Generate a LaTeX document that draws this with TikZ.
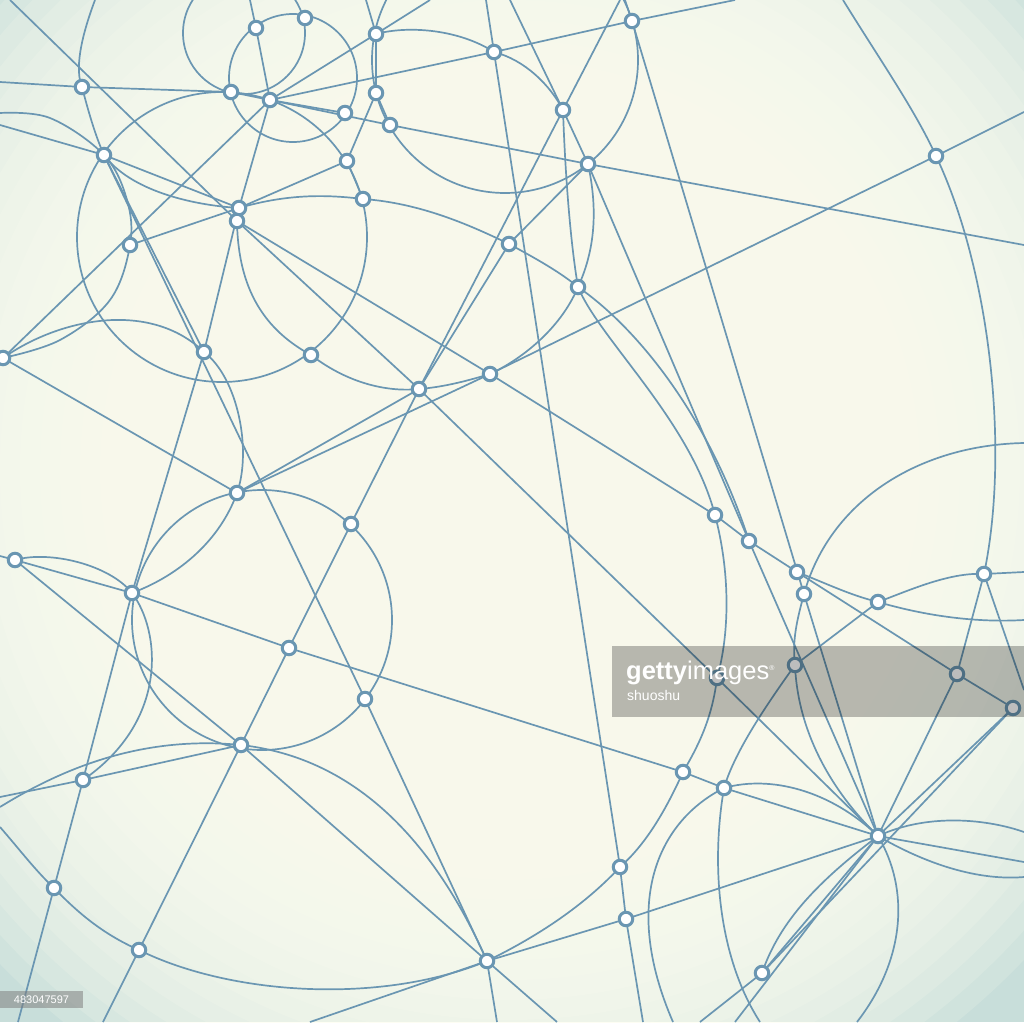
\documentclass[tikz,border=0pt]{standalone}
\usepackage{fontspec}
\newfontfamily\wm{Liberation Sans}
\definecolor{lc}{HTML}{6A96B2}
\definecolor{bgc}{HTML}{FDFDF0}
\definecolor{bge}{HTML}{C8DEDA}
\tikzset{ln/.style={draw=lc, line width=1.7pt},
  dot/.style={circle, draw=lc, line width=3pt, fill=white, inner sep=0pt, minimum size=13.5pt}}
\begin{document}
\begin{tikzpicture}[x=1pt,y=-1pt]
\useasboundingbox (0,0) rectangle (1024,1022);
\begin{scope}
\clip (0,0) rectangle (1024,1022);
\fill[bge] (0,0) rectangle (1024,1022);
\foreach \r in {710,690,...,290} {\fill[bgc, opacity=0.17] (510,470) circle (\r);}
% node positions
\foreach \n/\x/\y in {1/82/87,2/104/155,3/130/245,4/3/358,5/204/352,6/256/28,7/305/18,8/231/92,9/270/100,10/345/113,11/376/34,12/376/93,13/390/125,14/347/161,15/363/199,16/239/208,17/237/221,18/311/355,19/494/52,20/563/110,21/588/164,22/632/21,23/509/244,24/578/287,25/419/389,26/490/374,27/936/156,28/237/493,29/351/524,30/15/560,31/132/593,32/289/648,33/365/699,34/241/745,35/83/780,36/54/888,37/139/950,38/487/961,39/620/867,40/626/919,41/683/772,42/724/788,43/715/515,44/749/541,45/797/572,46/804/594,47/878/602,48/984/574,49/795/665,50/957/674,51/1013/708,52/878/836,53/762/973,54/717/678}
  {\coordinate (p\n) at (\x,\y);}
% free ends
\foreach \n/\x/\y in {1/10/0,2/0/125,3/0/82,4/735/0,5/250/0,6/18/1022,7/1024/112,8/1024/245,9/620/0,10/103/1022,11/486/0,12/643/1022,13/510/0,14/625/0,15/1024/690,16/0/556,17/1024/862,18/0/797,19/700/1022,20/735/1022,21/310/1022,22/497/1022,23/557/1022,24/366/0,25/430/0,26/1024/443,27/843/0,28/1024/572,29/1024/620,30/0/827,31/0/807,32/673/1022,33/760/1022,34/1024/832,35/1024/877,36/857/1022,37/95/0,38/0/113}
  {\coordinate (e\n) at (\x,\y);}
% straight connectors
\draw[ln] (e1) -- (p17) -- (p25) -- (p54) -- (p52);
\draw[ln] (e2) -- (p2) -- (p16);
\draw[ln] (e3) -- (p1) -- (p8) -- (p9);
\draw[ln] (p9) -- (p19) -- (p22) -- (e4);
\draw[ln] (e5) -- (p6) -- (p9) -- (p16) -- (p5) -- (p31) -- (p35) -- (p36) -- (e6);
\draw[ln] (p2) -- (p33) -- (p38);
\draw[ln] (p2) -- (p5);
\draw[ln] (p4) -- (p28);
\draw[ln] (p28) -- (p26) -- (p27) -- (e7);
\draw[ln] (p28) -- (p25);
\draw[ln] (p16) -- (p14);
\draw[ln] (p9) -- (p13) -- (p21) -- (e8);
\draw[ln] (e9) -- (p20) -- (p25) -- (p29) -- (p32) -- (p34) -- (p37) -- (e10);
\draw[ln] (e11) -- (p19) -- (p39) -- (p40) -- (e12);
\draw[ln] (e13) -- (p20) -- (p21) -- (p44) -- (p52);
\draw[ln] (e14) -- (p22) -- (p46) -- (p52);
\draw[ln] (p26) -- (p43) -- (p44) -- (p45) -- (p50) -- (p51);
\draw[ln] (p48) -- (p50) -- (p52);
\draw[ln] (p48) -- (e15);
\draw[ln] (e16) -- (p30) -- (p31) -- (p32) -- (p41) -- (p42) -- (p52);
\draw[ln] (p38) -- (p40) -- (p52) -- (e17);
\draw[ln] (p34) -- (p38);
\draw[ln] (e18) -- (p35) -- (p34);
\draw[ln] (p30) -- (p34);
\draw[ln] (p51) -- (p52) -- (p53) -- (e19);
\draw[ln] (p51) -- (p53);
\draw[ln] (p52) -- (e20);
\draw[ln] (e21) -- (p38) -- (e22);
\draw[ln] (p38) -- (e23);
\draw[ln] (p11) -- (p12) -- (p13);
\draw[ln] (p12) -- (p14) -- (p15);
\draw[ln] (p25) -- (p23) -- (p21);
\draw[ln] (p17) -- (p26);
\draw[ln] (p3) -- (p16);
\draw[ln] (p4) -- (p9);
\draw[ln] (e24) -- (p11) -- (e25);
\draw[ln] (p11) -- (p9) -- (p10);
\draw[ln] (p47) -- (p49);
\draw[ln] (p48) -- (e28);
% circles
\draw[ln] (244,33) circle (61);
\draw[ln] (293,78) circle (64);
\draw[ln] (222,237) circle (145);
\draw[ln] (262,620) circle (130);
\draw[ln] (505,60) circle (133);
% curves
\draw[ln] (e37) .. controls (80,40) and (75,70) .. (p1) .. controls (88,110) and (95,135) .. (p2) .. controls (130,190) and (190,205) .. (p16);
\draw[ln] plot[smooth, tension=0.6] coordinates {(e38) (50,118) (p2) (127,200) (p3) (110,300) (60,340) (p4)};
\draw[ln] (p4) .. controls (60,318) and (150,300) .. (p5) .. controls (238,378) and (252,450) .. (p28);
\draw[ln] (p17) .. controls (238,290) and (265,330) .. (p18) .. controls (350,385) and (390,392) .. (p25) .. controls (445,387) and (470,380) .. (p26);
\draw[ln] (p16) .. controls (290,193) and (330,195) .. (p15) .. controls (420,203) and (470,225) .. (p23) .. controls (535,258) and (560,272) .. (p24) .. controls (640,330) and (710,420) .. (p44);
\draw[ln] (p20) .. controls (565,170) and (570,240) .. (p24);
\draw[ln] (p21) .. controls (598,210) and (595,250) .. (p24) .. controls (560,330) and (520,360) .. (p26);
\draw[ln] (p24) .. controls (600,340) and (690,420) .. (p43) .. controls (732,580) and (728,640) .. (p54) .. controls (712,720) and (697,748) .. (p41) .. controls (665,812) and (645,845) .. (p39) .. controls (580,910) and (530,940) .. (p38);
\draw[ln] (e30) .. controls (20,850) and (35,870) .. (p36) .. controls (80,915) and (105,935) .. (p37) .. controls (230,995) and (380,1005) .. (p38);
\draw[ln] (e31) .. controls (60,770) and (140,735) .. (p34);
\draw[ln] (p34) .. controls (330,755) and (420,810) .. (p38);
\draw[ln] (p30) .. controls (50,550) and (110,565) .. (p31) .. controls (160,630) and (170,720) .. (p35);
\draw[ln] (p28) .. controls (220,540) and (180,575) .. (p31);
\draw[ln] (p42) .. controls (660,820) and (620,900) .. (e32);
\draw[ln] (p42) .. controls (710,870) and (720,960) .. (e33);
\draw[ln] (p42) .. controls (770,775) and (830,790) .. (p52);
\draw[ln] (p52) .. controls (930,812) and (990,820) .. (e34);
\draw[ln] (p52) .. controls (940,872) and (990,880) .. (e35);
\draw[ln] (p52) .. controls (910,890) and (905,960) .. (e36);
\draw[ln] (p52) .. controls (820,880) and (780,920) .. (p53);
\draw[ln] (e26) .. controls (920,445) and (830,500) .. (p46) .. controls (797,620) and (792,640) .. (p49) .. controls (798,740) and (840,800) .. (p52);
\draw[ln] (e27) .. controls (880,60) and (915,110) .. (p27) .. controls (990,270) and (1010,450) .. (p48);
\draw[ln] (p47) .. controls (910,590) and (950,572) .. (p48);
\draw[ln] (p47) .. controls (940,620) and (990,622) .. (e29);
\draw[ln] (p45) .. controls (830,585) and (850,595) .. (p47);
\draw[ln] (p49) .. controls (770,700) and (735,750) .. (p42);
\draw[ln] (p11) .. controls (410,25) and (460,30) .. (p19);
\draw[ln] (p19) .. controls (525,60) and (550,85) .. (p20);
% dots
\foreach \n in {1,...,54} {\node[dot] (n\n) at (p\n) {};}
% watermark
\fill[black, opacity=0.26] (612,646) rectangle (1024,717);
\node[anchor=base west, text=white, inner sep=0pt, font=\wm\fontsize{25.5}{25.5}\selectfont] (wm1) at (626,679) {\textbf{getty}images\raisebox{9pt}{\fontsize{7}{7}\selectfont ®}};
\node[anchor=base west, text=white, inner sep=0pt, font=\wm\fontsize{14}{14}\selectfont] (wm2) at (627,700) {shuoshu};
\fill[gray, opacity=0.55] (0,991) rectangle (83,1008);
\node[text=white, inner sep=0pt, font=\wm\fontsize{11}{11}\selectfont] (idn) at (41.5,999.5) {483047597};
\end{scope}
\end{tikzpicture}
\end{document}
